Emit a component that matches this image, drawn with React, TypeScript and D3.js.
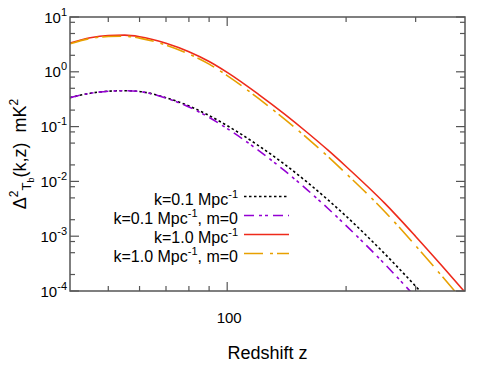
import React from "react";
import * as d3 from "d3";

// redshift grid and the four power spectra (mK^2)
const redshift = [40, 45, 50, 55, 60, 70, 80, 90, 100, 120, 140, 160, 180, 200, 250, 300, 350, 400];
const k01 = [0.338, 0.405, 0.442, 0.452, 0.437, 0.336, 0.238, 0.159, 0.104, 0.045, 0.0203, 0.00946, 0.00459, 0.00232, 4.85e-4, 1.22e-4, 3.6e-5, 1.21e-5];
const k01m0 = [0.338, 0.405, 0.442, 0.452, 0.437, 0.331, 0.228, 0.147, 0.092, 0.0368, 0.0155, 0.00688, 0.0032, 0.00156, 3.15e-4, 7.7e-5, 2.25e-5, 7.5e-6];
const k10 = [3.34, 4.19, 4.6, 4.66, 4.37, 3.31, 2.32, 1.54, 0.975, 0.388, 0.167, 0.0764, 0.0371, 0.0187, 0.00405, 9.9e-4, 2.86e-4, 9.5e-5];
const k10m0 = [3.24, 4.05, 4.4, 4.46, 4.12, 3.07, 2.11, 1.38, 0.853, 0.326, 0.135, 0.0602, 0.0284, 0.0139, 0.00286, 6.7e-4, 1.86e-4, 6.0e-5];

const xMinorTicks = [50, 60, 70, 80, 90, 200, 300];
const xMajorTicks = [100];
const yMajorExp = [1, 0, -1, -2, -3, -4];
const yMinorMult = [2, 5, 8];

const series = [
  { label: "k=0.1 Mpc", tail: "", values: k01, color: "#000000", dash: "2.5,2.5", width: 1.6 },
  { label: "k=0.1 Mpc", tail: ", m=0", values: k01m0, color: "#9400d3", dash: "10,5,3,3,3,5", width: 1.6 },
  { label: "k=1.0 Mpc", tail: "", values: k10, color: "#ee2a1b", dash: "", width: 1.6 },
  { label: "k=1.0 Mpc", tail: ", m=0", values: k10m0, color: "#e8a000", dash: "19,7,3,4", width: 1.6 },
];

const W = 491;
const H = 368;
const m = { left: 70, right: 26, top: 17, bottom: 77 };
const font = "'Liberation Sans', Arial, Helvetica, sans-serif";
const axisColor = "#555";

export default function App() {
  const x = d3.scaleLog().domain([40, 400]).range([m.left, W - m.right]);
  const y = d3.scaleLog().domain([1e-4, 10]).range([H - m.bottom, m.top]);
  const [x0, x1] = x.range();
  const [yb, yt] = y.range();

  const line = d3
    .line<number>()
    .x((_, i) => x(redshift[i]))
    .y((d) => y(d))
    .curve(d3.curveMonotoneX);

  const yMinor: number[] = [];
  yMajorExp.slice(0, -1).forEach((e) => {
    yMinorMult.forEach((mm) => yMinor.push(mm * Math.pow(10, e - 1)));
  });

  const legendX = 238;
  const legendY0 = 204.5;
  const legendStep = 19;

  return (
    <svg width={W} height={H} style={{ position: "absolute", left: 0, top: 0, background: "#fff" }} fontFamily={font}>
      <defs>
        <clipPath id="plot">
          <rect x={x0} y={yt} width={x1 - x0} height={yb - yt} />
        </clipPath>
      </defs>

      {/* curves */}
      <g clipPath="url(#plot)" fill="none">
        {series.map((s, i) => (
          <path key={i} d={line(s.values) || ""} stroke={s.color} strokeWidth={s.width} strokeDasharray={s.dash || undefined} />
        ))}
      </g>

      {/* ticks */}
      <g stroke={axisColor} strokeWidth={1.2}>
        {xMinorTicks.map((t) => (
          <g key={"xm" + t}>
            <line x1={x(t)} x2={x(t)} y1={yb} y2={yb - 5} />
            <line x1={x(t)} x2={x(t)} y1={yt} y2={yt + 5} />
          </g>
        ))}
        {xMajorTicks.map((t) => (
          <g key={"xM" + t}>
            <line x1={x(t)} x2={x(t)} y1={yb} y2={yb - 9} />
            <line x1={x(t)} x2={x(t)} y1={yt} y2={yt + 9} />
          </g>
        ))}
        {yMinor.map((v) => (
          <g key={"ym" + v}>
            <line x1={x0} x2={x0 + 5} y1={y(v)} y2={y(v)} />
            <line x1={x1} x2={x1 - 5} y1={y(v)} y2={y(v)} />
          </g>
        ))}
        {yMajorExp.map((e) => (
          <g key={"yM" + e}>
            <line x1={x0} x2={x0 + 9} y1={y(Math.pow(10, e))} y2={y(Math.pow(10, e))} />
            <line x1={x1} x2={x1 - 9} y1={y(Math.pow(10, e))} y2={y(Math.pow(10, e))} />
          </g>
        ))}
      </g>

      {/* border */}
      <rect x={x0} y={yt} width={x1 - x0} height={yb - yt} fill="none" stroke={axisColor} strokeWidth={1.5} />

      {/* tick labels */}
      <g fontSize={15} fill="#000">
        {yMajorExp.map((e) => (
          <text key={"yl" + e} x={x0 - 3} y={y(Math.pow(10, e)) + 5.5} textAnchor="end">
            10
            <tspan fontSize={11} dy={-7}>
              {String(e)}
            </tspan>
          </text>
        ))}
        {xMajorTicks.map((t) => (
          <text key={"xl" + t} x={x(t) + 2} y={323} textAnchor="middle">
            {t}
          </text>
        ))}
      </g>

      {/* axis titles */}
      <text x={(x0 + x1) / 2} y={359} textAnchor="middle" fontSize={18}>
        Redshift z
      </text>
      <text transform={`translate(26,${(yt + yb) / 2}) rotate(-90)`} textAnchor="middle" fontSize={18}>
        Δ
        <tspan fontSize={12} dy={-8}>2</tspan>
        <tspan fontSize={13} dy={13}>T</tspan>
        <tspan fontSize={9} dy={3}>b</tspan>
        <tspan fontSize={18} dy={-8}>{"(k,z)\u00a0\u00a0mK"}</tspan>
        <tspan fontSize={12} dy={-8}>2</tspan>
      </text>

      {/* legend */}
      <g fontSize={16}>
        {series.map((s, i) => {
          const ly = legendY0 + i * legendStep;
          return (
            <g key={"lg" + i}>
              <text x={legendX} y={ly} textAnchor="end">
                {s.label}
                <tspan fontSize={11} dy={-7}>-1</tspan>
                {s.tail ? <tspan dy={7}>{s.tail}</tspan> : null}
              </text>
              <line
                x1={244}
                x2={289}
                y1={ly - 8}
                y2={ly - 8}
                stroke={s.color}
                strokeWidth={s.width}
                strokeDasharray={s.dash || undefined}
              />
            </g>
          );
        })}
      </g>
    </svg>
  );
}
